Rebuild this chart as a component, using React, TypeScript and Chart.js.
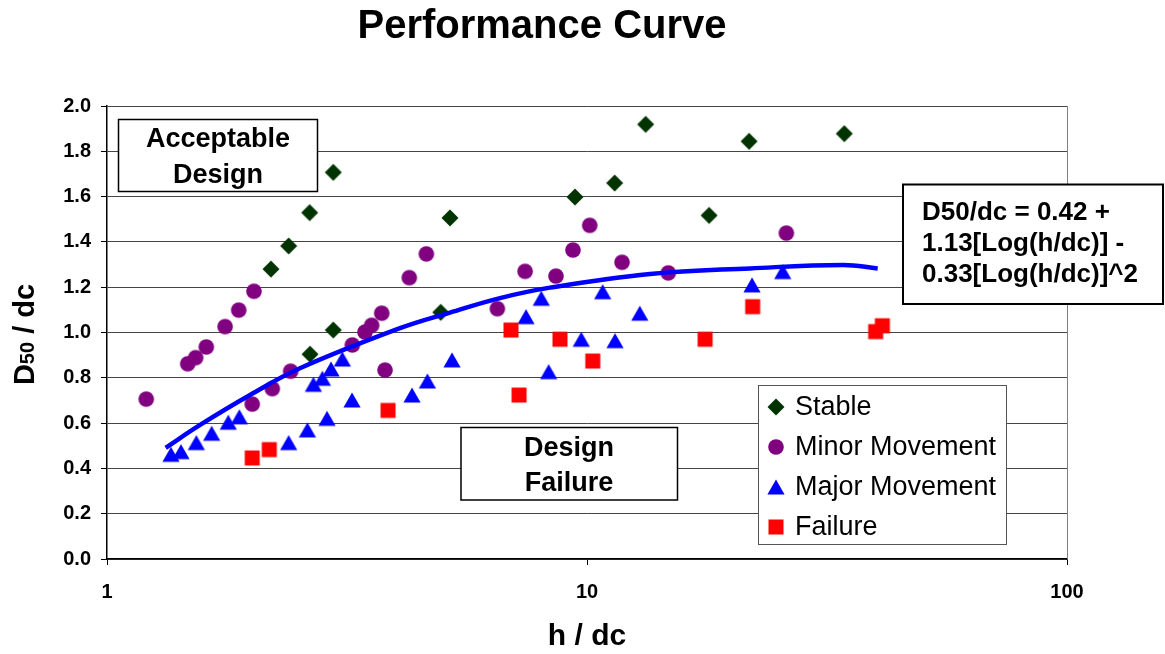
import React, { useEffect, useRef } from 'react';
import { Chart, registerables } from 'chart.js';

Chart.register(...registerables);

const FONT = '"Liberation Sans", Arial, Helvetica, sans-serif';

// Series names
const seriesNames = ['Stable', 'Minor Movement', 'Major Movement', 'Failure'];

// Stable
const stableX = [2.196, 2.39, 2.644, 2.961, 2.961, 2.648, 4.958, 5.183, 9.44, 11.42, 13.25, 17.96, 21.76, 34.36];
const stableY = [1.28, 1.382, 1.529, 1.707, 1.011, 0.904, 1.089, 1.506, 1.598, 1.66, 1.919, 1.517, 1.844, 1.878];

// Minor Movement
const minorX = [1.207, 1.473, 1.53, 1.61, 1.762, 1.881, 2.024, 2.007, 2.21, 2.413, 3.244, 3.447, 3.559, 3.735, 3.795, 4.264, 4.627, 6.504, 7.43, 8.618, 9.35, 10.13, 11.83, 14.77, 26.02];
const minorY = [0.706, 0.862, 0.889, 0.936, 1.026, 1.099, 1.182, 0.684, 0.752, 0.829, 0.945, 1.002, 1.032, 1.085, 0.834, 1.242, 1.347, 1.105, 1.27, 1.249, 1.364, 1.473, 1.31, 1.263, 1.439];

// Major Movement
const majorX = [1.359, 1.426, 1.535, 1.652, 1.789, 1.887, 2.39, 2.615, 2.692, 2.81, 2.873, 2.929, 3.092, 3.24, 4.32, 4.65, 5.233, 7.465, 8.03, 10.78, 12.88, 9.73, 11.44, 8.32, 22.07, 25.57];
const majorY = [0.462, 0.474, 0.514, 0.555, 0.604, 0.628, 0.514, 0.57, 0.771, 0.798, 0.621, 0.839, 0.883, 0.702, 0.724, 0.786, 0.879, 1.07, 1.151, 1.18, 1.085, 0.97, 0.964, 0.827, 1.21, 1.269];

// Failure
const failureX = [2.007, 2.178, 3.85, 6.944, 7.217, 8.785, 10.28, 17.62, 22.14, 39.94, 41.24];
const failureY = [0.446, 0.483, 0.656, 1.011, 0.724, 0.97, 0.874, 0.97, 1.114, 1.004, 1.03];

// Performance curve (trend)
const curveX = [1.325, 1.563, 1.986, 2.523, 4.077, 5.183, 6.588, 8.375, 13.53, 21.86, 34.2, 40.33];
const curveY = [0.491, 0.592, 0.724, 0.842, 1.019, 1.088, 1.152, 1.198, 1.258, 1.283, 1.298, 1.283];

// Axis ticks
const xTicks = [1, 10, 100];
const yMin = 0;
const yMax = 2;
const yStep = 0.2;

const colors = ['#003300', '#800080', '#0000ff', '#ff0000'];
const curveColor = '#0000ff';

const equationLines = ['D50/dc = 0.42 +', '1.13[Log(h/dc)] -', '0.33[Log(h/dc)]^2'];

const pts = (xs: number[], ys: number[]) => xs.map((x, i) => ({ x, y: ys[i] }));

type Shape = 'diamond' | 'circle' | 'triangle' | 'square';
const shapes: Shape[] = ['diamond', 'circle', 'triangle', 'square'];

function drawShape(ctx: CanvasRenderingContext2D, shape: Shape, cx: number, cy: number, color: string) {
  ctx.fillStyle = color;
  ctx.beginPath();
  if (shape === 'diamond') {
    const h = 8.5;
    ctx.moveTo(cx, cy - h);
    ctx.lineTo(cx + h, cy);
    ctx.lineTo(cx, cy + h);
    ctx.lineTo(cx - h, cy);
  } else if (shape === 'circle') {
    ctx.arc(cx, cy, 7.8, 0, Math.PI * 2);
  } else if (shape === 'triangle') {
    ctx.moveTo(cx, cy - 7.5);
    ctx.lineTo(cx + 8.6, cy + 7.5);
    ctx.lineTo(cx - 8.6, cy + 7.5);
  } else {
    ctx.rect(cx - 7.5, cy - 7.5, 15, 15);
  }
  ctx.closePath();
  ctx.fill();
}

function markerCanvas(shape: Shape, color: string): HTMLCanvasElement {
  const c = document.createElement('canvas');
  c.width = 20;
  c.height = 20;
  const ctx = c.getContext('2d')!;
  drawShape(ctx, shape, 10, 10, color);
  return c;
}

function textBox(ctx: CanvasRenderingContext2D, x1: number, y1: number, x2: number, y2: number, lw: number, color: string) {
  ctx.save();
  ctx.fillStyle = '#ffffff';
  ctx.fillRect(x1, y1, x2 - x1, y2 - y1);
  ctx.strokeStyle = color;
  ctx.lineWidth = lw;
  ctx.strokeRect(x1, y1, x2 - x1, y2 - y1);
  ctx.restore();
}

const decorations = {
  id: 'decorations',
  beforeDatasetsDraw(chart: Chart) {
    const { ctx, chartArea: a } = chart;
    ctx.save();
    ctx.strokeStyle = '#808080';
    ctx.lineWidth = 1;
    ctx.beginPath();
    ctx.moveTo(a.right + 0.5, a.top);
    ctx.lineTo(a.right + 0.5, a.bottom);
    ctx.stroke();
    ctx.restore();
  },
  afterDraw(chart: Chart) {
    const { ctx, chartArea: a } = chart;
    ctx.save();

    // Title
    ctx.fillStyle = '#000';
    ctx.textAlign = 'center';
    ctx.textBaseline = 'middle';
    ctx.font = `bold 40px ${FONT}`;
    ctx.fillText('Performance Curve', 542, 27);

    // X axis title
    ctx.font = `bold 30px ${FONT}`;
    ctx.fillText('h / dc', (a.left + a.right) / 2, 637);

    // Y axis title with subscript
    ctx.save();
    ctx.translate(34, (a.top + a.bottom) / 2 + 2);
    ctx.rotate(-Math.PI / 2);
    ctx.textAlign = 'left';
    ctx.textBaseline = 'alphabetic';
    const big = `bold 29px ${FONT}`;
    const small = `bold 20px ${FONT}`;
    ctx.font = big;
    const wD = ctx.measureText('D').width;
    const wRest = ctx.measureText(' / dc').width;
    ctx.font = small;
    const wSub = ctx.measureText('50').width;
    const total = wD + wSub + wRest;
    let x = -total / 2;
    ctx.font = big;
    ctx.fillText('D', x, 0);
    x += wD;
    ctx.font = small;
    ctx.fillText('50', x, 0);
    x += wSub;
    ctx.font = big;
    ctx.fillText(' / dc', x, 0);
    ctx.restore();

    // Region labels
    textBox(ctx, 118.5, 119.5, 317.5, 191.5, 1.5, '#000');
    ctx.font = `bold 27px ${FONT}`;
    ctx.fillStyle = '#000';
    ctx.textAlign = 'center';
    ctx.textBaseline = 'middle';
    ctx.fillText('Acceptable', 218, 140);
    ctx.fillText('Design', 218, 176);

    textBox(ctx, 461, 427.5, 677.5, 500, 1.5, '#000');
    ctx.fillText('Design', 569, 449);
    ctx.fillText('Failure', 569, 484);

    // Equation
    textBox(ctx, 903, 184.5, 1163, 304, 2, '#000');
    ctx.textAlign = 'left';
    ctx.textBaseline = 'alphabetic';
    ctx.font = `bold 26px ${FONT}`;
    equationLines.forEach((line, i) => ctx.fillText(line, 922, 220 + i * 31));

    // Legend
    textBox(ctx, 758.5, 385.5, 1006.5, 544.5, 1, '#555');
    ctx.font = `27px ${FONT}`;
    ctx.textBaseline = 'middle';
    seriesNames.forEach((name, i) => {
      const cy = 407 + i * 40;
      drawShape(ctx, shapes[i], 776, cy, colors[i]);
      ctx.fillStyle = '#000';
      ctx.fillText(name, 795, cy + 1);
    });

    ctx.restore();
  },
};

export default function App() {
  const canvasRef = useRef<HTMLCanvasElement | null>(null);

  useEffect(() => {
    const canvas = canvasRef.current;
    if (!canvas) return;

    const seriesX = [stableX, minorX, majorX, failureX];
    const seriesY = [stableY, minorY, majorY, failureY];

    const scatterSets = seriesNames.map((name, i) => ({
      label: name,
      data: pts(seriesX[i], seriesY[i]),
      pointStyle: markerCanvas(shapes[i], colors[i]),
      backgroundColor: colors[i],
      borderColor: colors[i],
      showLine: false,
    }));

    const chart = new Chart(canvas, {
      type: 'scatter',
      data: {
        datasets: [
          {
            label: 'Trend',
            data: pts(curveX, curveY),
            showLine: true,
            borderColor: curveColor,
            borderWidth: 4.5,
            pointRadius: 0,
            tension: 0.4,
          } as any,
          // later-listed series sit underneath
          scatterSets[3],
          scatterSets[2],
          scatterSets[1],
          scatterSets[0],
        ],
      },
      options: {
        responsive: false,
        animation: false,
        devicePixelRatio: 1,
        layout: { padding: { left: 0, top: 106, right: 98, bottom: 0 } },
        plugins: {
          legend: { display: false },
          tooltip: { enabled: false },
          title: { display: false },
        },
        scales: {
          x: {
            type: 'logarithmic',
            min: 1,
            max: 100,
            afterBuildTicks: (scale: any) => {
              scale.ticks = xTicks.map((v) => ({ value: v }));
            },
            afterFit: (scale: any) => {
              scale.height = 95;
            },
            ticks: {
              autoSkip: false,
              maxRotation: 0,
              padding: 15,
              color: '#000',
              font: { family: FONT, size: 20, weight: 'bold' },
              callback: (v: any) => String(v),
            },
            grid: {
              drawOnChartArea: false,
              drawTicks: true,
              tickLength: 6,
              tickColor: '#000',
            },
            border: { display: true, color: '#000', width: 1.5 },
          },
          y: {
            min: yMin,
            max: yMax,
            afterFit: (scale: any) => {
              scale.width = 107;
            },
            ticks: {
              stepSize: yStep,
              padding: 10,
              color: '#000',
              font: { family: FONT, size: 20, weight: 'bold' },
              callback: (v: any) => Number(v).toFixed(1),
            },
            grid: {
              color: '#454545',
              lineWidth: 1,
              drawTicks: true,
              tickLength: 6,
              tickColor: '#000',
            },
            border: { display: true, color: '#000', width: 1.5 },
          },
        },
      } as any,
      plugins: [decorations],
    });

    return () => chart.destroy();
  }, []);

  return (
    <div style={{ position: 'fixed', left: 0, top: 0, width: 1165, height: 654, background: '#fff' }}>
      <canvas ref={canvasRef} width={1165} height={654} style={{ display: 'block' }} />
    </div>
  );
}
